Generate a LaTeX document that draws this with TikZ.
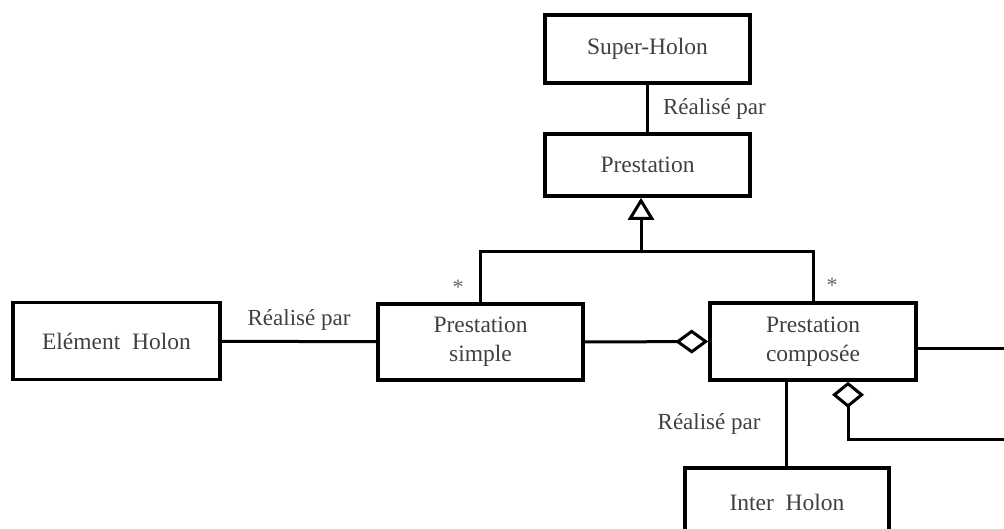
\documentclass[tikz,border=0pt]{standalone}
\usepackage{fontspec}
\setmainfont{Liberation Serif}
\usetikzlibrary{arrows.meta}
\begin{document}
\begin{tikzpicture}[x=1pt,y=-1pt,
  cls/.style={draw, line width=3.6pt, align=center, inner sep=0pt,
    font=\fontsize{23.5}{29}\selectfont, text=black!75},
  link/.style={line width=3pt},
  lbl/.style={font=\fontsize{23}{27}\selectfont, text=black!75, inner sep=0pt},
  mult/.style={font=\fontsize{22}{24}\selectfont, text=black!60, inner sep=0pt},
  gen/.style={link, -{Triangle[open, length=22pt, width=26pt, line width=3pt]}},
  agg/.style={link, -{Diamond[open, length=33pt, width=24pt, line width=3pt]}},
  aggstart/.style={link, {Diamond[open, length=26pt, width=32pt, line width=3pt]}-}]
\useasboundingbox (0,0) rectangle (1004,529);
\clip (0,0) rectangle (1004,529);

% classes
\node[cls, minimum width=205pt, minimum height=68pt] (super) at (647.5,49) {Super-Holon};
\node[cls, minimum width=205pt, minimum height=62pt] (prest) at (647.5,165) {Prestation};
\node[cls, minimum width=207pt, minimum height=77pt] (elem) at (116.5,341) {Elément\ \ Holon};
\node[cls, minimum width=205pt, minimum height=76pt] (simple) at (480.5,342) {Prestation\\simple};
\node[cls, minimum width=206pt, minimum height=77pt] (comp) at (813,341.5) {Prestation\\composée};
\node[cls, minimum width=204pt, minimum height=68pt] (inter) at (787,502) {Inter\ \ Holon};

% realisation links
\draw[link] (super) -- (prest) node[lbl, midway, right=14pt] {Réalisé par};
\draw[link] (elem) -- (simple) node[lbl, midway, above=10pt] {Réalisé par};
\coordinate (cs) at (786,380);
\draw[link] (comp.south -| cs) -- (inter.north -| cs) node[lbl, midway, left=24pt] {Réalisé par};

% generalisation
\coordinate (j) at (641,252);
\draw[link] (simple.north) |- (j) -| (comp.north);
\draw[gen] (j) -- (prest.south -| j);
\node[mult] (m1) at (458,287) {*};
\node[mult] (m2) at (832,285) {*};

% aggregation
\draw[agg] (simple.east) -- (comp.west);
\coordinate (r1) at (1004,348);
\draw[link] (comp.east |- r1) -- (r1);
\coordinate (d) at (848,380);
\coordinate (r2) at (1004,439);
\draw[aggstart] (comp.south -| d) |- (r2);
\end{tikzpicture}
\end{document}
